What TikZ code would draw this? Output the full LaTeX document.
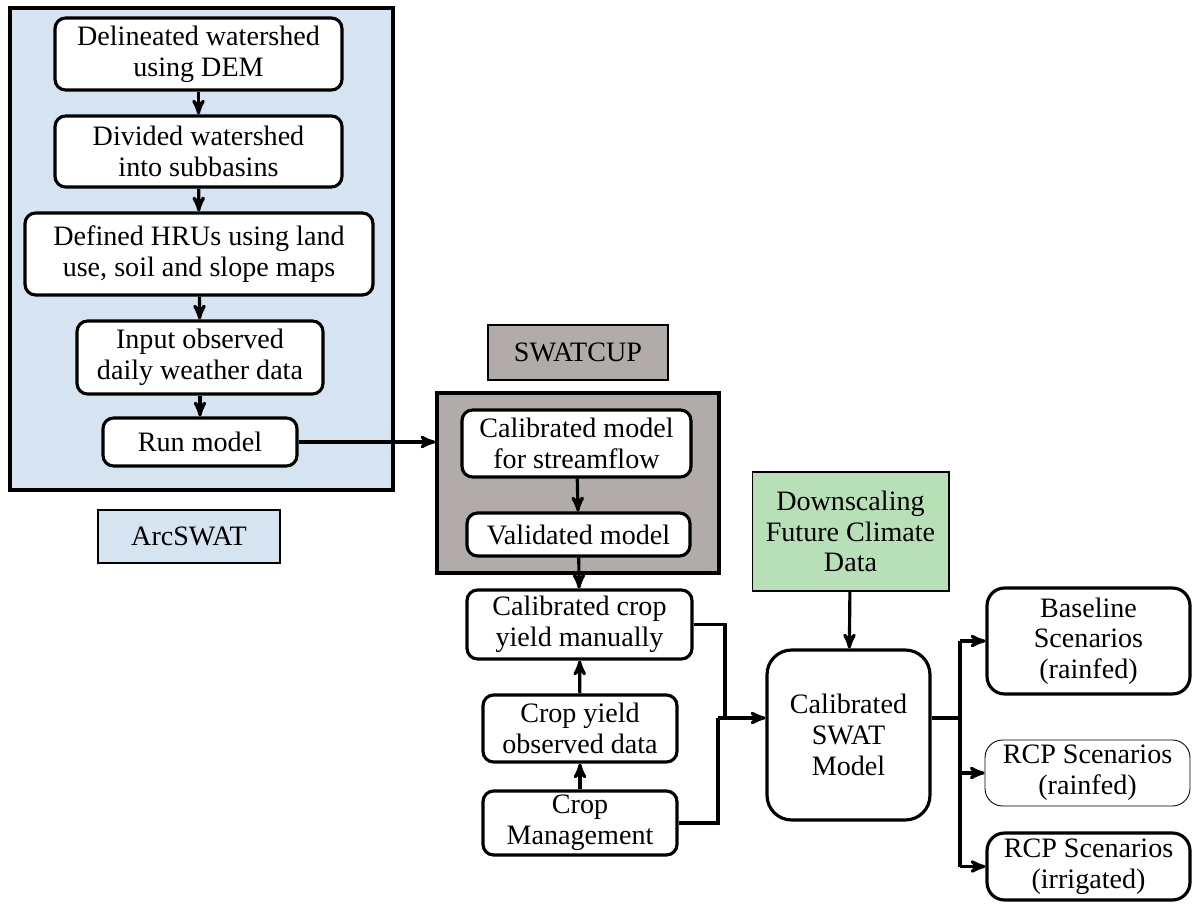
\documentclass[tikz,border=0pt]{standalone}
\usepackage{fontspec}
\setmainfont{Liberation Serif}
\usetikzlibrary{arrows,calc,positioning}
\definecolor{arcblue}{HTML}{D6E4F2}
\definecolor{cupgray}{HTML}{B1ABA9}
\definecolor{downgreen}{HTML}{B8E0B6}
\begin{document}
\rmfamily
\begin{tikzpicture}[x=0.02cm,y=-0.02cm,>=stealth',line width=1.8pt,
	every node/.style={font=\rmfamily\fontsize{16}{17.5}\selectfont,align=center,inner sep=0pt},
	task/.style={draw,fill=white,rounded corners=6pt},
	panel/.style={draw,line width=2pt}]
		\useasboundingbox (0,0) rectangle (1200,911);
		% ArcSWAT part
		\node[panel,fill=arcblue,minimum width=7.66cm,minimum height=9.64cm] (arc) at (201.5,249) {};
		\node[draw,line width=0.6pt,fill=arcblue,minimum width=3.64cm,minimum height=1.06cm] (arclbl) at (189,536.5) {ArcSWAT};
		\node[task,minimum width=5.74cm,minimum height=1.44cm] (dem) at (198.5,54) {Delineated watershed\\using DEM};
		\node[task,minimum width=5.74cm,minimum height=1.42cm] (sub) at (198.5,151.5) {Divided watershed\\into subbasins};
		\node[task,minimum width=6.96cm,minimum height=1.64cm] (hru) at (199,254) {Defined HRUs using land\\use, soil and slope maps};
		\node[task,minimum width=4.92cm,minimum height=1.46cm] (wea) at (200,357.5) {Input observed\\daily weather data};
		\node[task,minimum width=3.88cm,minimum height=0.96cm] (run) at (200,442) {Run model};
		% SWATCUP part
		\node[draw,line width=0.6pt,fill=cupgray,minimum width=3.6cm,minimum height=1.1cm] (cuplbl) at (578,352.5) {SWATCUP};
		\node[panel,fill=cupgray,minimum width=5.64cm,minimum height=3.6cm] (cup) at (578,483) {};
		\node[task,minimum width=4.58cm,minimum height=1.34cm] (cal) at (576.5,443.5) {Calibrated model\\for streamflow};
		\node[task,minimum width=4.46cm,minimum height=0.86cm] (val) at (578.5,534.5) {Validated model};
		\node[task,minimum width=4.5cm,minimum height=1.38cm] (crop) at (579.5,624.5) {Calibrated crop\\yield manually};
		\node[task,minimum width=3.88cm,minimum height=1.34cm] (obs) at (580,728.5) {Crop yield\\observed data};
		\node[task,minimum width=3.88cm,minimum height=1.28cm] (mgmt) at (580,823) {Crop\\Management};
		% climate and scenarios
		\node[draw,line width=0.6pt,fill=downgreen,minimum width=3.94cm,minimum height=2.38cm] (down) at (850.5,531.5) {Downscaling\\Future Climate\\Data};
		\node[task,rounded corners=14pt,minimum width=3.26cm,minimum height=3.4cm] (swat) at (848.5,735) {Calibrated\\SWAT\\Model};
		\node[task,rounded corners=10pt,minimum width=4.06cm,minimum height=2.12cm] (base) at (1088.5,641) {Baseline\\Scenarios\\(rainfed)};
		\node[task,line width=0.5pt,rounded corners=10pt,minimum width=4.1cm,minimum height=1.32cm] (rcpr) at (1087.5,773) {RCP Scenarios\\(rainfed)};
		\node[task,rounded corners=10pt,minimum width=4.06cm,minimum height=1.34cm] (rcpi) at (1088.5,866.5) {RCP Scenarios\\(irrigated)};
		\coordinate (join) at (725,718);
		\coordinate (fork) at (960,718);
		\draw[->] (dem) -- (sub);
		\draw[->] (sub) -- (hru);
		\draw[->] (hru) -- (wea);
		\draw[->] (wea) -- (run);
		\draw[->] (run.east) -- (run.east -| cup.west);
		\draw[->] (cal) -- (val);
		\draw[->] (val) -- (crop);
		\draw[->] (mgmt) -- (obs);
		\draw[->] (obs) -- (crop);
		\draw (crop.east) -| (join);
		\draw (mgmt.east) -| (718,718);
		\draw[->] (718,718) -- (swat.west |- join);
		\draw[->] (down) -- (swat);
		\draw (swat.east |- fork) -- (fork);
		\draw ($(fork |- base)$) -- ($(fork |- rcpi)$);
		\draw[->] (fork |- base) -- (base.west);
		\draw[->] (fork |- rcpr) -- (rcpr.west);
		\draw[->] (fork |- rcpi) -- (rcpi.west);
	\end{tikzpicture}
\end{document}
